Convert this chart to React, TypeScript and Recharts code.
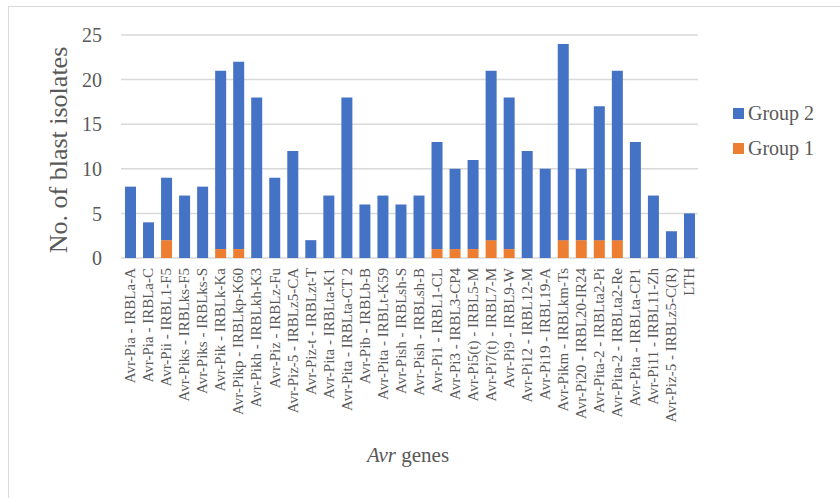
import React from "react";
import { BarChart, Bar, XAxis, YAxis, CartesianGrid, Legend } from "recharts";

const genes = [
  "Avr-Pia - IRBLa-A",
  "Avr-Pia - IRBLa-C",
  "Avr-Pii - IRBL1-F5",
  "Avr-Piks - IRBLks-F5",
  "Avr-Piks - IRBLks-S",
  "Avr-Pik - IRBLk-Ka",
  "Avr-Pikp - IRBLkp-K60",
  "Avr-Pikh - IRBLkh-K3",
  "Avr-Piz - IRBLz-Fu",
  "Avr-Piz-5 - IRBLz5-CA",
  "Avr-Piz-t - IRBLzt-T",
  "Avr-Pita - IRBLta-K1",
  "Avr-Pita - IRBLta-CT 2",
  "Avr-Pib - IRBLb-B",
  "Avr-Pita - IRBLt-K59",
  "Avr-Pish - IRBLsh-S",
  "Avr-Pish - IRBLsh-B",
  "Avr-Pi1 - IRBL1-CL",
  "Avr-Pi3 - IRBL3-CP4",
  "Avr-Pi5(t) - IRBL5-M",
  "Avr-Pi7(t) - IRBL7-M",
  "Avr-Pi9 - IRBL9-W",
  "Avr-Pi12 - IRBL12-M",
  "Avr-Pi19 - IRBL19-A",
  "Avr-Pikm - IRBLkm-Ts",
  "Avr-Pi20 - IRBL20-IR24",
  "Avr-Pita-2 - IRBLta2-Pi",
  "Avr-Pita-2 - IRBLta2-Re",
  "Avr-Pita - IRBLta-CP1",
  "Avr-Pi11 - IRBL11-Zh",
  "Avr-Piz-5 - IRBLz5-C(R)",
  "LTH",
];

const group1 = [0, 0, 2, 0, 0, 1, 1, 0, 0, 0, 0, 0, 0, 0, 0, 0, 0, 1, 1, 1, 2, 1, 0, 0, 2, 2, 2, 2, 0, 0, 0, 0];
const group2 = [8, 4, 7, 7, 8, 20, 21, 18, 9, 12, 2, 7, 18, 6, 7, 6, 7, 12, 9, 10, 19, 17, 12, 10, 22, 8, 15, 19, 13, 7, 3, 5];

const yTicks = [0, 5, 10, 15, 20, 25];

const data = genes.map((g, i) => ({ gene: g, g1: group1[i], g2: group2[i] }));

const FONT = '"Liberation Serif", "Times New Roman", serif';
const TEXT = "#595959";

const XTick = (props: any) => {
  const { x, y, payload } = props;
  const ty = y + 10;
  return (
    <text
      x={x}
      y={ty}
      transform={`rotate(-90, ${x}, ${ty})`}
      textAnchor="end"
      dy="0.35em"
      fill={TEXT}
      fontSize={15}
      fontFamily={FONT}
    >
      {payload.value}
    </text>
  );
};

const legendItems = [
  { name: "Group 2", color: "#4472C4" },
  { name: "Group 1", color: "#ED7D31" },
];

const renderLegend = () => (
  <div style={{ fontFamily: FONT, color: TEXT }}>
    {legendItems.map((it) => (
      <div key={it.name} style={{ display: "flex", alignItems: "center", height: 35 }}>
        <span style={{ display: "inline-block", width: 11, height: 11, background: it.color, marginRight: 4 }} />
        <span style={{ fontSize: 20 }}>{it.name}</span>
      </div>
    ))}
  </div>
);

export default function App() {
  return (
    <div style={{ position: "absolute", left: 0, top: 0, width: 840, height: 498, background: "#fff", overflow: "hidden" }}>
      <div
        style={{
          position: "absolute",
          left: 8,
          top: 6,
          width: 840,
          height: 498,
          borderLeft: "1px solid #d9d9d9",
          borderTop: "1px solid #d9d9d9",
        }}
      />
      <div style={{ position: "absolute", left: 0, top: 0 }}>
        <BarChart
          width={840}
          height={498}
          data={data}
          margin={{ top: 35, right: 142, left: 0, bottom: 0 }}
          barSize={11}
        >
          <CartesianGrid vertical={false} stroke="#d9d9d9" strokeWidth={1.5} />
          <XAxis
            dataKey="gene"
            interval={0}
            height={240}
            axisLine={false}
            tickLine={false}
            tickSize={0}
            tickMargin={0}
            tick={<XTick />}
          />
          <YAxis
            domain={[0, 25]}
            ticks={yTicks}
            width={121}
            axisLine={false}
            tickLine={false}
            tickSize={0}
            tickMargin={19}
            tick={{ fill: TEXT, fontSize: 20, fontFamily: FONT }}
          />
          <Legend
            layout="horizontal"
            verticalAlign="middle"
            align="center"
            content={renderLegend}
            wrapperStyle={{ left: 733, top: 96, width: 110, height: 70 }}
          />
          <Bar dataKey="g1" name="Group 1" stackId="a" fill="#ED7D31" isAnimationActive={false} />
          <Bar dataKey="g2" name="Group 2" stackId="a" fill="#4472C4" isAnimationActive={false} />
        </BarChart>
      </div>
      <div
        style={{
          position: "absolute",
          left: 59,
          top: 150,
          transform: "translate(-50%, -50%) rotate(-90deg)",
          whiteSpace: "nowrap",
          fontFamily: FONT,
          fontSize: 26,
          lineHeight: 1,
          color: TEXT,
        }}
      >
        No. of blast isolates
      </div>
      <div
        style={{
          position: "absolute",
          left: 408,
          top: 445,
          transform: "translateX(-50%)",
          whiteSpace: "nowrap",
          fontFamily: FONT,
          fontSize: 21,
          lineHeight: 1,
          color: TEXT,
        }}
      >
        <i>Avr</i> genes
      </div>
    </div>
  );
}
